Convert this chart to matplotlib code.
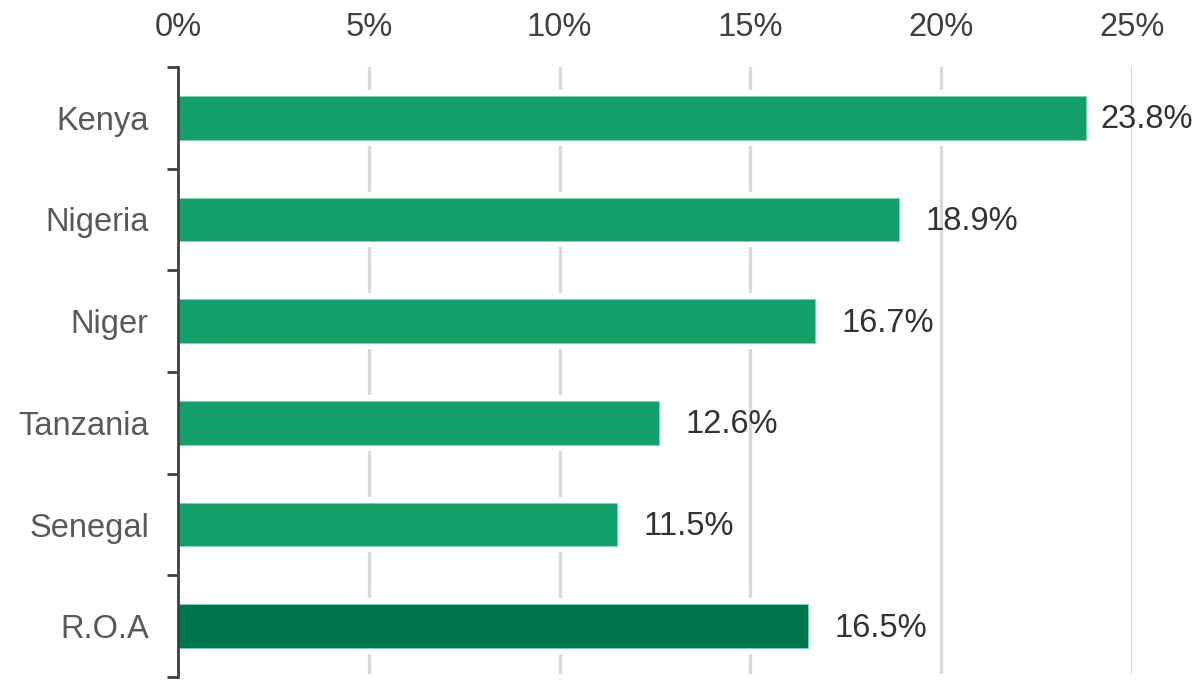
import numpy as np
import matplotlib
import matplotlib.pyplot as plt
from matplotlib.ticker import FixedLocator, PercentFormatter

matplotlib.use('Agg')

# Data
countries = ["Kenya", "Nigeria", "Niger", "Tanzania", "Senegal", "R.O.A"]
shares = [23.8, 18.9, 16.7, 12.6, 11.5, 16.5]  # percent
bar_colors = ["#13a06a", "#13a06a", "#13a06a", "#13a06a", "#13a06a", "#00774f"]
x_ticks = [0, 5, 10, 15, 20, 25]

plt.rcParams['font.family'] = ['Liberation Sans', 'DejaVu Sans']

fig = plt.figure(figsize=(12, 6.89), dpi=100)
ax = fig.add_axes([178 / 1200, 1 - 677 / 689, (1132 - 178) / 1200, (677 - 67) / 689])

y = np.arange(len(countries))

# gridlines first, then a white backing so the lines stop short of each bar
for t in x_ticks[1:]:
    ax.axvline(t, ymin=0.008, color="#d9d9d9", lw=2.4, zorder=0)
ax.barh(y, shares, height=0.55, color="white", zorder=1)
ax.barh(y, shares, height=0.43, color=bar_colors, edgecolor="#7fd3b0",
        linewidth=0.6, zorder=2)

# value labels
for yi, v in zip(y, shares):
    offset = 10 if v > 22 else 19
    ax.annotate(f"{v:.1f}%", (v, yi), xytext=(offset, 1), textcoords="offset points",
                va="center_baseline", ha="left", fontsize=23.5, color="#333333", zorder=3)

ax.set_xlim(0, 25)
ax.set_ylim(len(countries) - 0.5, -0.5)

ax.xaxis.tick_top()
ax.set_xticks(x_ticks)
ax.xaxis.set_major_formatter(PercentFormatter(decimals=0))
ax.tick_params(axis="x", length=0, pad=17, labelsize=23.5, labelcolor="#404040")

ax.set_yticks(y)
ax.set_yticklabels(countries)
ax.tick_params(axis="y", which="major", length=0, pad=21, labelsize=23.5, labelcolor="#595959")
ax.yaxis.set_minor_locator(FixedLocator(np.arange(-0.5, len(countries), 1)))
ax.tick_params(axis="y", which="minor", length=8, width=2, color="#404040", direction="out")

for s in ["top", "right", "bottom"]:
    ax.spines[s].set_visible(False)
ax.spines["left"].set_color("#404040")
ax.spines["left"].set_linewidth(2)

fig.savefig("out.png", dpi=100)
